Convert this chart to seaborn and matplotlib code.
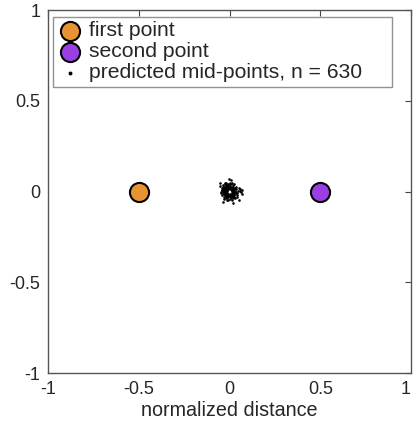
import numpy as np
import pandas as pd
import matplotlib
matplotlib.use("Agg")
import matplotlib.pyplot as plt
import seaborn as sns

# endpoints
first_point = (-0.5, 0.0)
second_point = (0.5, 0.0)

# predicted mid-points (hand-read offsets around the origin)
mid_x = [0.02, 0.018, 0.014, 0.006, -0.004, -0.012, -0.019, -0.023, -0.024, -0.02,
         -0.013, -0.004, 0.006, 0.014, 0.019,
         0.028, 0.025, 0.017, 0.004, -0.009, -0.021, -0.029, -0.032, -0.029, -0.021,
         -0.008, 0.006, 0.018, 0.026,
         0.015, 0.01, 0.0, -0.01, -0.016, -0.014, -0.006, 0.005, 0.013,
         -0.04, -0.035, -0.02, 0.0, 0.015, -0.045, -0.042, -0.03, -0.01, 0.012,
         0.03, 0.04, 0.045, 0.035, 0.025,
         0.055, 0.062, 0.07, 0.066, 0.058,
         -0.05, -0.005, 0.01, -0.035, 0.02, -0.055, 0.05,
         -0.03, -0.036, -0.027, -0.015, -0.04, -0.038, -0.022, -0.01, 0.005, -0.033,
         -0.018, 0.0, 0.02, 0.033, 0.036, 0.03,
         0.012, 0.016, 0.008, -0.002, -0.008, -0.016, -0.02, -0.018, -0.01, 0.0,
         0.009, 0.017, 0.022, -0.026, -0.028, -0.024, -0.015, -0.006, 0.003, 0.012,
         0.021, 0.024, -0.025, -0.012, 0.01, 0.022, 0.031, -0.034, -0.02, 0.0,
         0.018, -0.031, -0.044, -0.037, -0.025, -0.048, 0.042, 0.05, 0.039, -0.013]
mid_y = [0.0, 0.01, 0.018, 0.022, 0.024, 0.021, 0.014, 0.005, -0.004, -0.013,
         -0.02, -0.023, -0.022, -0.017, -0.009,
         0.004, 0.016, 0.026, 0.031, 0.03, 0.024, 0.012, -0.002, -0.015, -0.025,
         -0.031, -0.03, -0.024, -0.013,
         0.004, 0.012, 0.016, 0.013, 0.003, -0.008, -0.015, -0.015, -0.008,
         0.02, 0.035, 0.045, 0.05, 0.045, 0.0, -0.02, -0.04, -0.048, -0.045,
         -0.035, -0.02, 0.002, 0.028, 0.04,
         0.005, -0.004, 0.008, -0.012, 0.014,
         0.045, 0.07, 0.065, -0.055, -0.06, 0.03, -0.045,
         0.028, 0.018, 0.04, 0.038, 0.008, -0.008, 0.032, 0.04, 0.04, -0.028,
         -0.036, -0.038, -0.035, -0.01, 0.012, 0.022,
         0.016, 0.006, 0.02, 0.02, 0.018, 0.01, 0.0, -0.009, -0.018, -0.02,
         -0.018, -0.012, -0.004, 0.006, -0.008, 0.018, 0.027, 0.026, 0.027, 0.025,
         0.021, -0.019, -0.02, -0.028, -0.028, -0.03, 0.0, 0.009, 0.035, 0.043,
         0.034, 0.002, 0.011, 0.026, 0.048, -0.01, -0.005, 0.02, -0.03, -0.044]
n_mid = 630

ticks = [-1, -0.5, 0, 0.5, 1]
tick_labels = ["-1", "-0.5", "0", "0.5", "1"]

sns.set_theme(style="white")
plt.rcParams['font.family'] = ['Liberation Sans', 'DejaVu Sans']

fig = plt.figure(figsize=(4.14, 4.23), dpi=100)
ax = fig.add_axes([0.116, 0.118, 0.877, 0.858])

mid_df = pd.DataFrame({"x": mid_x, "y": mid_y})
sns.scatterplot(data=mid_df, x="x", y="y", ax=ax, color="black", s=3.5,
                linewidth=0, label=f"predicted mid-points, n = {n_mid}", zorder=2)
sns.scatterplot(x=[first_point[0]], y=[first_point[1]], ax=ax, color="#E69433",
                s=190, edgecolor="black", linewidth=1.5, label="first point", zorder=3)
sns.scatterplot(x=[second_point[0]], y=[second_point[1]], ax=ax, color="#9B3FE3",
                s=190, edgecolor="black", linewidth=1.5, label="second point", zorder=3)

ax.set_xlim(-1, 1)
ax.set_ylim(-1, 1)
ax.set_xticks(ticks)
ax.set_xticklabels(tick_labels)
ax.set_yticks(ticks)
ax.set_yticklabels(tick_labels)
ax.tick_params(direction="in", length=4, width=0.8, color="#444444",
               labelsize=13, top=True, right=True, pad=5.5)
# keep the last x label inside the figure edge
ax.get_xticklabels()[-1].set_horizontalalignment("right")
for s in ax.spines.values():
    s.set_color("#555555")
    s.set_linewidth(1.0)
ax.set_xlabel("normalized distance", fontsize=14.2, labelpad=2)
ax.set_ylabel("")

handles, labels = ax.get_legend_handles_labels()
order = [1, 2, 0]
leg = ax.legend([handles[i] for i in order], [labels[i] for i in order],
                loc="upper left", bbox_to_anchor=(0.014, 0.6, 0.934, 0.381),
                mode="expand", fontsize=15.2,
                fancybox=False, frameon=True, borderpad=0.2, labelspacing=0.1,
                handletextpad=0.3, handlelength=1.2, borderaxespad=0,
                markerscale=1.0)
leg.get_frame().set_edgecolor("#777777")
leg.get_frame().set_linewidth(1.0)
for h in leg.legend_handles[:2]:
    h.set_sizes([190])
leg.legend_handles[2].set_sizes([8])

fig.savefig("out.png", dpi=100)
